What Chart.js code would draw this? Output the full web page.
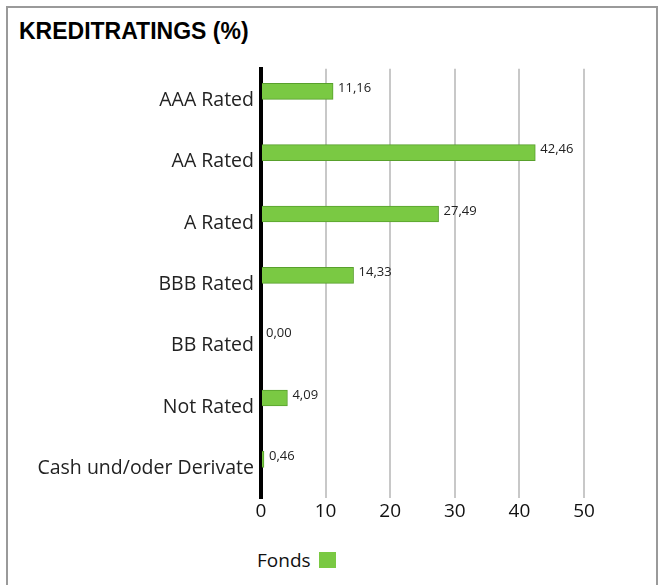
<!DOCTYPE html>
<html>
<head>
<meta charset="utf-8">
<script src="https://cdn.jsdelivr.net/npm/chart.js@4.4.0/dist/chart.umd.min.js"></script>
<style>
  body { margin: 0; background: #fff; font-family: "Open Sans", sans-serif; }
  #box { position: absolute; left: 6px; top: 6px; width: 648px; height: 600px; border: 2px solid #9a9a9a; }
  #title { position: absolute; left: 19px; top: 18px; font-family: "Liberation Sans Narrow", sans-serif; font-weight: bold; font-size: 23px; color: #000; }
  #chart { position: absolute; left: 8px; top: 50px; }
  #legend { position: absolute; left: 257px; top: 547px; font-size: 19px; color: #111; display: flex; align-items: center; }
  #legend span.sw { display: inline-block; width: 17px; height: 16px; background: #7ac943; margin-left: 8px; }
</style>
</head>
<body>
<div id="box"></div>
<div id="title">KREDITRATINGS (%)</div>
<canvas id="chart" width="648" height="480"></canvas>
<div id="legend">Fonds<span class="sw"></span></div>
<script>
// data ........................................................................
const categories = ['AAA Rated', 'AA Rated', 'A Rated', 'BBB Rated', 'BB Rated', 'Not Rated', 'Cash und/oder Derivate'];
const fondsValues = [11.16, 42.46, 27.49, 14.33, 0.00, 4.09, 0.46];
const benchmarkValues = [null, null, null, null, null, null, null]; // empty second slot
const xTicks = [0, 10, 20, 30, 40, 50];

const green = '#7ac943';
const greenBorder = '#58a02c';

// value labels next to the bars ...............................................
const valueLabels = {
  id: 'valueLabels',
  afterDatasetsDraw(chart) {
    const ctx = chart.ctx;
    const meta = chart.getDatasetMeta(0);
    ctx.save();
    ctx.font = '13px "Open Sans"';
    ctx.fillStyle = '#222';
    ctx.textAlign = 'left';
    ctx.textBaseline = 'middle';
    meta.data.forEach(function(bar, i){
      const txt = fondsValues[i].toFixed(2).replace('.', ',');
      ctx.fillText(txt, bar.x + 5, bar.y - 3);
    });
    ctx.restore();
  }
};

let myChart = new Chart(document.getElementById('chart'), {
  type: 'bar',
  data: {
    labels: categories,
    datasets: [{
      label: 'Fonds',
      data: fondsValues,
      backgroundColor: green,
      borderColor: greenBorder,
      borderWidth: 1,
      barThickness: 16
    }, {
      label: 'Benchmark',
      data: benchmarkValues,
      backgroundColor: '#999',
      barThickness: 16
    }]
  },
  options: {
    indexAxis: 'y',
    responsive: false,
    animation: false,
    layout: { padding: { top: 12, right: 72, left: 0, bottom: 0 } },
    plugins: {
      legend: { display: false },
      tooltip: { enabled: false }
    },
    scales: {
      x: {
        min: 0,
        max: 50,
        afterBuildTicks(scale) { scale.ticks = xTicks.map(v => ({ value: v })); },
        afterFit(scale) { scale.height = 32; },
        grid: { color: '#c8c8c8', lineWidth: 2, drawTicks: false },
        border: { display: false },
        ticks: { padding: 2, color: '#111', font: { family: 'Open Sans', size: 19 } }
      },
      y: {
        afterFit(scale) { scale.width = 253; },
        grid: { display: false, drawTicks: false },
        border: { display: true, color: '#000', width: 4 },
        ticks: { padding: 7, labelOffset: 1, color: '#222', font: { family: 'Open Sans', size: 19.5 } }
      }
    }
  },
  plugins: [valueLabels]
});
</script>
</body>
</html>
